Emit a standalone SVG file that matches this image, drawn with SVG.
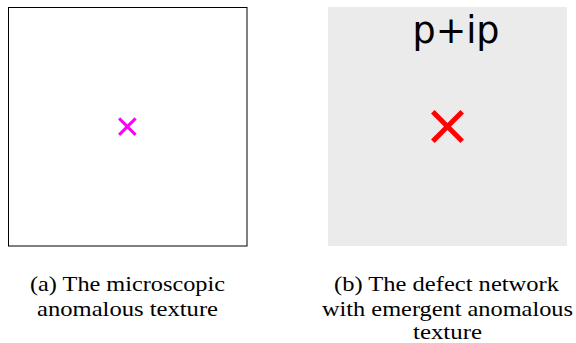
<svg xmlns="http://www.w3.org/2000/svg" width="576" height="343" viewBox="0 0 576 343">
  <style>
    .cap { font-family: "Liberation Serif", "Times New Roman", serif; font-size: 21px; fill: #000; text-anchor: middle; }
    .lbl { font-family: "DejaVu Sans", sans-serif; font-size: 36.5px; fill: #000; text-anchor: middle; }
  </style>
  <rect width="576" height="343" fill="#ffffff"/>
  <g id="panel-a">
    <rect x="8.5" y="7.5" width="238.5" height="238.5" fill="#ffffff" stroke="#000000" stroke-width="1"/>
    <g id="marker-a" stroke="#ff00ff" stroke-width="3">
      <line x1="119.1" y1="118.4" x2="135.6" y2="134.9"/>
      <line x1="135.6" y1="118.4" x2="119.1" y2="134.9"/>
    </g>
  </g>
  <g id="panel-b">
    <rect x="328" y="7" width="239" height="239" fill="#ebebeb"/>
    <text class="lbl" x="456" y="43">p+ip</text>
    <g id="marker-b" stroke="#ff0000" stroke-width="5">
      <line x1="432.8" y1="111.8" x2="462.2" y2="141.2"/>
      <line x1="462.2" y1="111.8" x2="432.8" y2="141.2"/>
    </g>
  </g>
  <g id="caption-a">
    <text class="cap" x="127.5" y="291" textLength="195" lengthAdjust="spacingAndGlyphs">(a) The microscopic</text>
    <text class="cap" x="127.5" y="316" textLength="181" lengthAdjust="spacingAndGlyphs">anomalous texture</text>
  </g>
  <g id="caption-b">
    <text class="cap" x="446.5" y="291" textLength="225" lengthAdjust="spacingAndGlyphs">(b) The defect network</text>
    <text class="cap" x="447.5" y="316" textLength="251" lengthAdjust="spacingAndGlyphs">with emergent anomalous</text>
    <text class="cap" x="447.5" y="339" textLength="69" lengthAdjust="spacingAndGlyphs">texture</text>
  </g>
</svg>
